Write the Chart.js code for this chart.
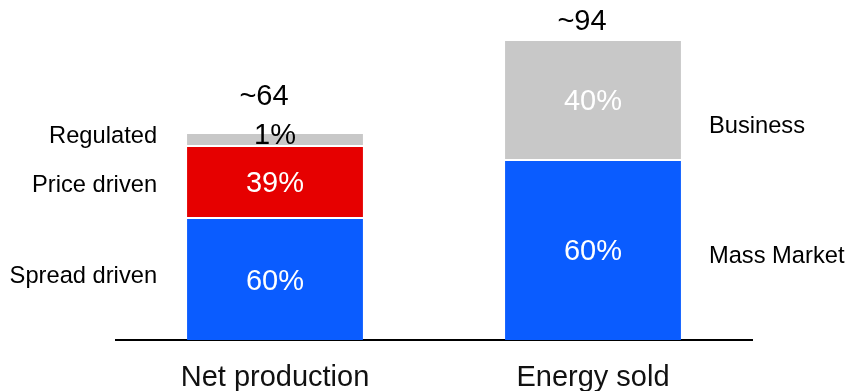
<!DOCTYPE html>
<html lang="en">
<head>
  <meta charset="UTF-8" />
  <title>Net production vs Energy sold</title>
  <script src="https://cdn.jsdelivr.net/npm/chart.js"></script>
  <style>
    body {
      margin: 0;
      background: #ffffff;
    }

    .chart-box {
      position: relative;
      width: 850px;
      height: 391px;
    }
  </style>
</head>
<body>

  <div class="chart-box">
    <canvas id="stackChart"></canvas>
  </div>

  <script>
    // categories along the bottom
    const categories = ['Net production', 'Energy sold'];
    const totals = ['~64', '~94'];

    // segment heights as drawn (bottom, middle, top)
    const bottomValues = [38.4, 56.6];
    const middleValues = [22.5, 37.5];
    const topValues = [4.1, null];

    // text shown inside each segment
    const bottomShares = ['60%', '60%'];
    const middleShares = ['39%', '40%'];
    const topShares = ['1%', null];

    // names beside each segment (left of first bar, right of second)
    const bottomNames = ['Spread driven', 'Mass Market'];
    const middleNames = ['Price driven', 'Business'];
    const topNames = ['Regulated', null];

    const BLUE = '#0a5cff';
    const RED = '#e60000';
    const GREY = '#c8c8c8';

    Chart.defaults.font.family = "'Liberation Sans', Arial, sans-serif";

    const layers = [
      { data: bottomValues, colors: [BLUE, BLUE], shares: bottomShares, names: bottomNames },
      { data: middleValues, colors: [RED, GREY], shares: middleShares, names: middleNames },
      { data: topValues, colors: [GREY, GREY], shares: topShares, names: topNames }
    ];

    const GAP = 2; // white line between stacked pieces

    const labelPlugin = {
      id: 'stackLabels',
      afterDatasetsDraw(chart, args, opts) {
        const ctx = chart.ctx;
        const tops = [];
        const dy = opts.textDy;
        ctx.save();
        ctx.textBaseline = 'middle';

        layers.forEach((layer, di) => {
          const meta = chart.getDatasetMeta(di);
          meta.data.forEach((bar, i) => {
            if (layer.data[i] == null) return;
            const top = bar.y + GAP;
            const thin = bar.base - top < 20;
            const mid = thin ? top : (top + bar.base) / 2;
            tops[i] = { y: top, thin: thin, x: bar.x, w: bar.width };

            // share inside the segment
            if (layer.shares[i]) {
              ctx.font = opts.bigFont + 'px ' + Chart.defaults.font.family;
              ctx.textAlign = 'center';
              ctx.fillStyle = thin ? '#000000' : '#ffffff';
              ctx.fillText(layer.shares[i], bar.x, mid + dy);
            }

            // name beside the segment
            const name = layer.names[i];
            if (name) {
              const nudge = opts.nudge[name] || 0;
              ctx.font = opts.sideFont + 'px ' + Chart.defaults.font.family;
              ctx.fillStyle = '#000000';
              if (i === 0) {
                ctx.textAlign = 'right';
                ctx.fillText(name, bar.x - bar.width / 2 - 30, mid + nudge + dy);
              } else {
                ctx.textAlign = 'left';
                ctx.fillText(name, bar.x + bar.width / 2 + 28, mid + nudge + dy);
              }
            }
          });
        });

        // totals above the stacks
        ctx.font = opts.bigFont + 'px ' + Chart.defaults.font.family;
        ctx.textAlign = 'center';
        ctx.fillStyle = '#000000';
        tops.forEach((t, i) => {
          const lift = t.thin ? 39 : 21;
          ctx.fillText(totals[i], t.x + opts.totalShiftX, t.y - lift + dy);
        });
        ctx.restore();
      }
    };

    new Chart(document.getElementById('stackChart'), {
      type: 'bar',
      data: {
        labels: categories,
        datasets: layers.map(layer => ({
          data: layer.data,
          backgroundColor: layer.colors,
          borderColor: '#ffffff',
          borderWidth: { top: GAP, left: 0, right: 0, bottom: 0 },
          borderSkipped: false,
          categoryPercentage: 1,
          barPercentage: 0.553
        }))
      },
      options: {
        responsive: true,
        maintainAspectRatio: false,
        animation: false,
        layout: {
          padding: { top: 20, left: 116, right: 98, bottom: 0 }
        },
        plugins: {
          legend: { display: false },
          tooltip: { enabled: false },
          stackLabels: {
            bigFont: 29,
            sideFont: 23.7,
            totalShiftX: -11,
            textDy: 2,
            nudge: { 'Spread driven': -5, 'Business': 25, 'Mass Market': 4, 'Price driven': 1 }
          }
        },
        scales: {
          x: {
            stacked: true,
            grid: { display: false, drawTicks: false },
            border: { display: true, color: '#000000', width: 2 },
            ticks: {
              color: '#111111',
              padding: 21,
              maxRotation: 0,
              font: { size: 29 }
            },
            afterFit(scale) {
              scale.height = 51;
            }
          },
          y: {
            stacked: true,
            display: false,
            min: 0,
            max: 100
          }
        }
      },
      plugins: [labelPlugin]
    });
  </script>
</body>
</html>
